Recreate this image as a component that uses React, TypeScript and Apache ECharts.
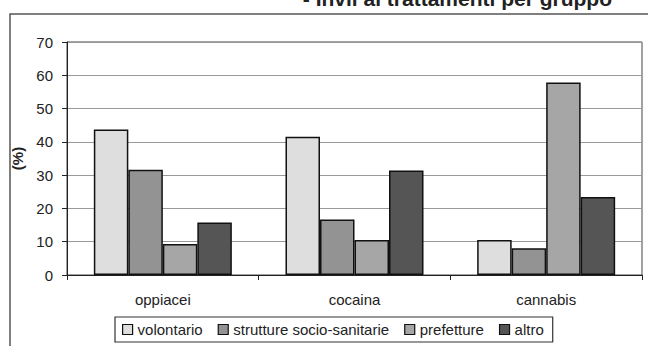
import React, { useEffect, useRef } from "react";
import * as echarts from "echarts";

const categories = ["oppiacei", "cocaina", "cannabis"];
const seriesNames = ["volontario", "strutture socio-sanitarie", "prefetture", "altro"];
const volontario = [43.7, 41.5, 10.5];
const strutture = [31.6, 16.7, 8.0];
const prefetture = [9.3, 10.5, 57.8];
const altro = [15.8, 31.4, 23.4];
const yTicks = { min: 0, max: 70, interval: 10 };
const colors = ["#dedede", "#939393", "#a6a6a6", "#555555"];

export default function App() {
  const ref = useRef<HTMLDivElement>(null);
  useEffect(() => {
    const chart = echarts.init(ref.current!, null, { renderer: "svg" });
    const values = [volontario, strutture, prefetture, altro];
    const font = "Liberation Sans, Arial, sans-serif";
    chart.setOption({
      animation: false,
      backgroundColor: "#ffffff",
      textStyle: { fontFamily: font },
      graphic: [
        {
          type: "rect",
          shape: { x: 10, y: 14, width: 700, height: 400 },
          style: { fill: "none", stroke: "#555", lineWidth: 1.5 },
          silent: true,
        },
        {
          type: "text",
          right: 36,
          top: -12,
          style: {
            text: "- Invii ai trattamenti per gruppo",
            font: "bold 21px " + font,
            fill: "#222",
          },
        },
      ],
      grid: {
        left: 67,
        right: 6,
        top: 42,
        bottom: 71,
        show: true,
        borderColor: "#444",
        borderWidth: 1,
      },
      legend: {
        data: seriesNames,
        left: 115,
        top: 317,
        padding: [5, 9, 5, 7],
        borderColor: "#333",
        borderWidth: 1.2,
        itemWidth: 10,
        itemHeight: 10,
        itemGap: 15,
        icon: "rect",
        itemStyle: { borderColor: "#111", borderWidth: 1.2 },
        textStyle: { fontSize: 15, color: "#222", fontFamily: font },
      },
      xAxis: {
        type: "category",
        data: categories,
        axisLine: { lineStyle: { color: "#222", width: 1 } },
        axisTick: { show: true, length: 5, lineStyle: { color: "#222" } },
        axisLabel: { fontSize: 15, color: "#222", margin: 17 },
      },
      yAxis: {
        type: "value",
        min: yTicks.min,
        max: yTicks.max,
        interval: yTicks.interval,
        name: "(%)",
        nameLocation: "middle",
        nameGap: 38,
        nameRotate: 90,
        nameTextStyle: { fontSize: 15, color: "#222", fontWeight: "bold" },
        axisLine: { show: true, lineStyle: { color: "#222", width: 1 } },
        axisTick: { show: true, length: 5, lineStyle: { color: "#222" } },
        axisLabel: { fontSize: 15, color: "#222", margin: 14 },
        splitLine: { lineStyle: { color: "#999", width: 1 } },
      },
      series: seriesNames.map((n, i) => ({
        name: n,
        type: "bar",
        data: values[i],
        barGap: "0%",
        barCategoryGap: "28%",
        itemStyle: { color: colors[i], borderColor: "#111", borderWidth: 1.5 },
      })),
    });
    return () => chart.dispose();
  }, []);
  return (
    <div
      ref={ref}
      style={{ position: "fixed", left: 0, top: 0, width: 648, height: 346 }}
    />
  );
}
